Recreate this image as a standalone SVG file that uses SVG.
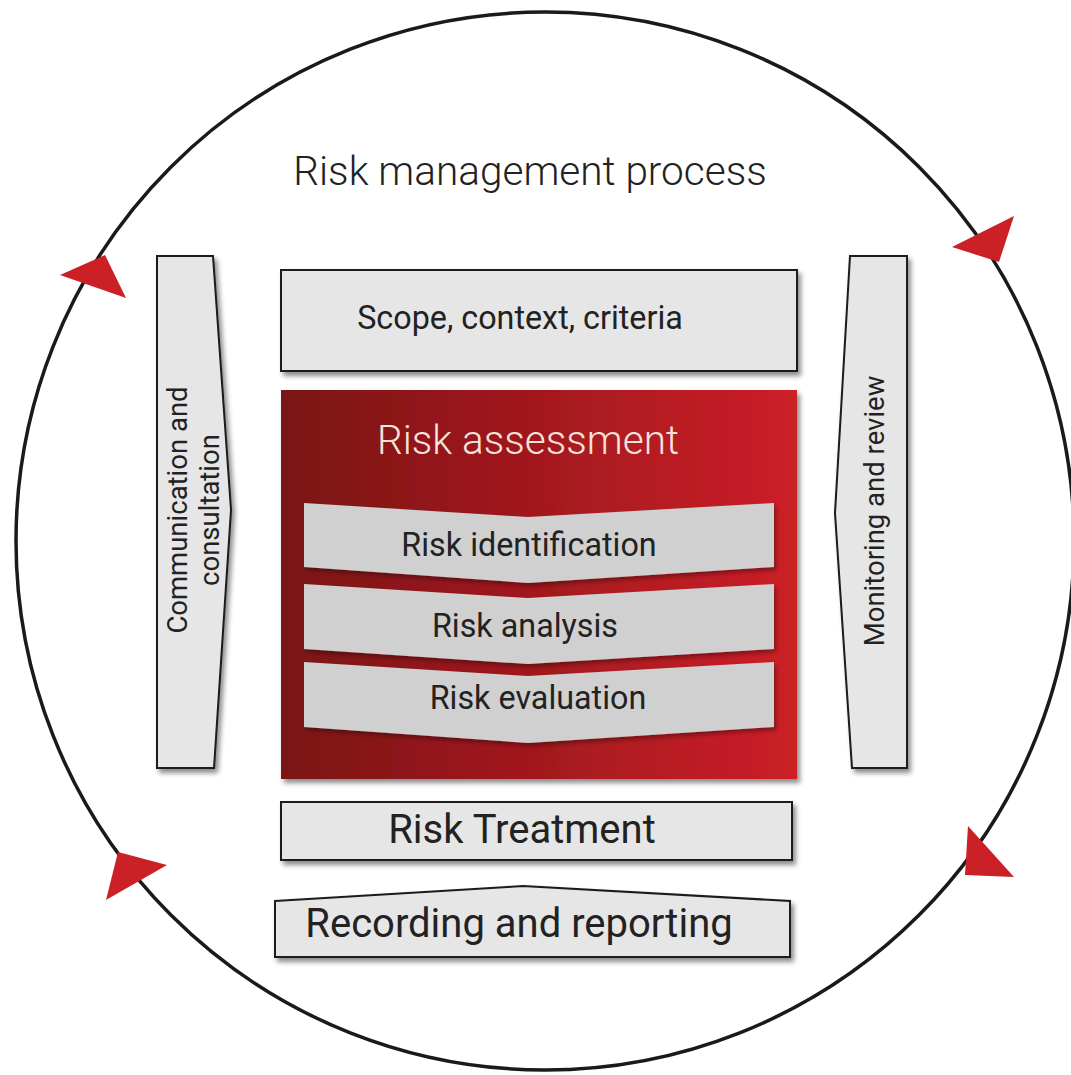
<svg xmlns="http://www.w3.org/2000/svg" width="1071" height="1075" viewBox="0 0 1071 1075">
<defs>
<style>
.box{fill:#e6e6e6;stroke:#1a1a1a;stroke-width:2;filter:url(#sh)}
.chev{fill:#d0d0d0;filter:url(#sh2)}
.t{font-family:Roboto,"Liberation Sans",sans-serif;fill:#222;text-anchor:middle}
.arr{fill:#cc2027}
</style>
<linearGradient id="red" x1="0" y1="0" x2="1" y2="0">
<stop offset="0" stop-color="#7a1215"/>
<stop offset="1" stop-color="#cc2028"/>
</linearGradient>
<filter id="sh" x="-10%" y="-10%" width="130%" height="130%">
<feDropShadow dx="3" dy="4" stdDeviation="2.5" flood-color="#000" flood-opacity="0.45"/>
</filter>
<filter id="sh2" x="-10%" y="-10%" width="130%" height="130%">
<feDropShadow dx="2" dy="3" stdDeviation="2" flood-color="#000" flood-opacity="0.35"/>
</filter>
</defs>
<rect width="1071" height="1075" fill="#fff"/>
<g id="cycle">
<circle cx="545" cy="541" r="529" fill="none" stroke="#1a1a1a" stroke-width="3.5"/>
<polygon class="arr" points="60,275 105,255 126,298"/>
<polygon class="arr" points="952,247 1014,216 999,262"/>
<polygon class="arr" points="118,852 167,865 106,900"/>
<polygon class="arr" points="968,826 1014,877 965,875"/>
</g>
<text class="t" x="530" y="185" font-size="40.5" font-weight="300">Risk management process</text>
<g id="communication">
<polygon class="box" points="157,256 213,256 231,510 214,768 157,768"/>
<text class="t" transform="translate(187,510) rotate(-90)" font-size="27.5">Communication and</text>
<text class="t" transform="translate(219,510) rotate(-90)" font-size="27.5">consultation</text>
</g>
<g id="monitoring">
<polygon class="box" points="850,256 907,256 907,768 852,768 835,513"/>
<text class="t" transform="translate(884,511) rotate(-90)" font-size="27.5">Monitoring and review</text>
</g>
<g id="scope">
<rect class="box" x="281" y="270" width="516" height="101"/>
<text class="t" x="520" y="329" font-size="32.3">Scope, context, criteria</text>
</g>
<g id="assessment">
<rect x="281" y="390" width="516" height="389" fill="url(#red)" filter="url(#sh)"/>
<text class="t" x="528" y="454" font-size="40.5" font-weight="300" style="fill:#f6e4dc">Risk assessment</text>
<polygon class="chev" points="304,503 528,517 774,503 774,567 528,583 304,567"/>
<text class="t" x="529" y="556" font-size="32.3">Risk identification</text>
<polygon class="chev" points="304,584 528,598 774,584 774,649 528,664 304,649"/>
<text class="t" x="525" y="637" font-size="32.3">Risk analysis</text>
<polygon class="chev" points="304,662 528,676 774,662 774,727 528,743 304,727"/>
<text class="t" x="538" y="709" font-size="32.3">Risk evaluation</text>
</g>
<g id="treatment">
<rect class="box" x="281" y="802" width="511" height="58"/>
<text class="t" x="522" y="843" font-size="40">Risk Treatment</text>
</g>
<g id="recording">
<polygon class="box" points="275,901 523,886 790,901 790,957 275,957"/>
<text class="t" x="519" y="937" font-size="40">Recording and reporting</text>
</g>
<g id="connectors"></g>
</svg>
